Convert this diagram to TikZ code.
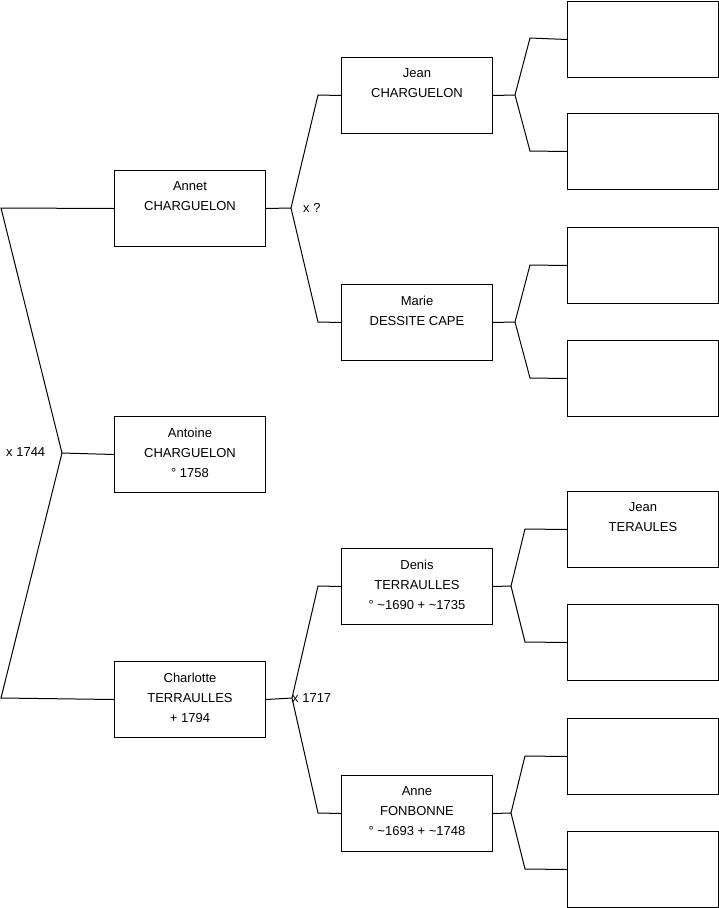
\documentclass[tikz,border=0pt]{standalone}
\usepackage{fontspec}
\setmainfont{Liberation Sans}
\begin{document}
\begin{tikzpicture}[x=1pt,y=-1pt,
  box/.style={draw, line width=1pt, minimum width=151pt, minimum height=76pt, inner sep=0pt, anchor=north west},
  txt/.style={font=\fontsize{13}{20}\selectfont, align=center, inner sep=0pt, anchor=north},
  lbl/.style={font=\fontsize{13}{15}\selectfont, inner sep=0pt, anchor=west},
  link/.style={line width=1pt, line join=miter}]
\useasboundingbox (0,0) rectangle (719,908);
% generation 1
\node[box] (annet) at (114,170) {};
\node[box] (antoine) at (114,416) {};
\node[box] (charlotte) at (114,661) {};
% generation 2
\node[box] (jean) at (341,57) {};
\node[box] (marie) at (341,284) {};
\node[box] (denis) at (341,548) {};
\node[box] (anne) at (341,775) {};
% generation 3
\node[box] (g1) at (567,1) {};
\node[box] (g2) at (567,113) {};
\node[box] (g3) at (567,227) {};
\node[box] (g4) at (567,340) {};
\node[box] (g5) at (567,491) {};
\node[box] (g6) at (567,604) {};
\node[box] (g7) at (567,718) {};
\node[box] (g8) at (567,831) {};
% texts
\node[txt] (annet-t) at ([yshift=-11.5pt]annet.north) {Annet\\CHARGUELON};
\node[txt] (antoine-t) at ([yshift=-11.5pt]antoine.north) {Antoine\\CHARGUELON\\° 1758};
\node[txt] (charlotte-t) at ([yshift=-11.5pt]charlotte.north) {Charlotte\\TERRAULLES\\+ 1794};
\node[txt] (jean-t) at ([yshift=-11.5pt]jean.north) {Jean\\CHARGUELON};
\node[txt] (marie-t) at ([yshift=-11.5pt]marie.north) {Marie\\DESSITE CAPE};
\node[txt] (denis-t) at ([yshift=-11.5pt]denis.north) {Denis\\TERRAULLES\\° \textasciitilde1690 + \textasciitilde1735};
\node[txt] (anne-t) at ([yshift=-11.5pt]anne.north) {Anne\\FONBONNE\\° \textasciitilde1693 + \textasciitilde1748};
\node[txt] (g5-t) at ([yshift=-11.5pt]g5.north) {Jean\\TERAULES};
% labels
\node[lbl] (m1744) at (6,452) {x 1744};
\node[lbl] (mq) at (303,208) {x ?};
\node[lbl] (m1717) at (292,698) {x 1717};
% connector points
\coordinate (L1) at (1,208);
\coordinate (LV) at (62,453);
\coordinate (L2) at (1,698);
\coordinate (AV) at (291,208);
\coordinate (AU) at (318,95);
\coordinate (AD) at (318,322);
\coordinate (CV) at (292,698);
\coordinate (CU) at (318,586);
\coordinate (CD) at (318,813);
\coordinate (JV) at (515,95);
\coordinate (JU) at (530,38);
\coordinate (JD) at (530,151);
\coordinate (MV) at (515,322);
\coordinate (MU) at (530,265);
\coordinate (MD) at (530,378);
\coordinate (DV) at (511,586);
\coordinate (DU) at (525,529);
\coordinate (DD) at (525,642);
\coordinate (NV) at (511,813);
\coordinate (NU) at (525,756);
\coordinate (ND) at (525,869);
% connectors
\draw[link] (annet.west) -- (L1) -- (LV) -- (L2) -- (charlotte.west);
\draw[link] (LV) -- (antoine.west);
\draw[link] (annet.east) -- (AV);
\draw[link] (jean.west) -- (AU) -- (AV) -- (AD) -- (marie.west);
\draw[link] (charlotte.east) -- (CV);
\draw[link] (denis.west) -- (CU) -- (CV) -- (CD) -- (anne.west);
\draw[link] (jean.east) -- (JV);
\draw[link] (g1.west) -- (JU) -- (JV) -- (JD) -- (g2.west);
\draw[link] (marie.east) -- (MV);
\draw[link] (g3.west) -- (MU) -- (MV) -- (MD) -- (g4.west);
\draw[link] (denis.east) -- (DV);
\draw[link] (g5.west) -- (DU) -- (DV) -- (DD) -- (g6.west);
\draw[link] (anne.east) -- (NV);
\draw[link] (g7.west) -- (NU) -- (NV) -- (ND) -- (g8.west);
\end{tikzpicture}
\end{document}
